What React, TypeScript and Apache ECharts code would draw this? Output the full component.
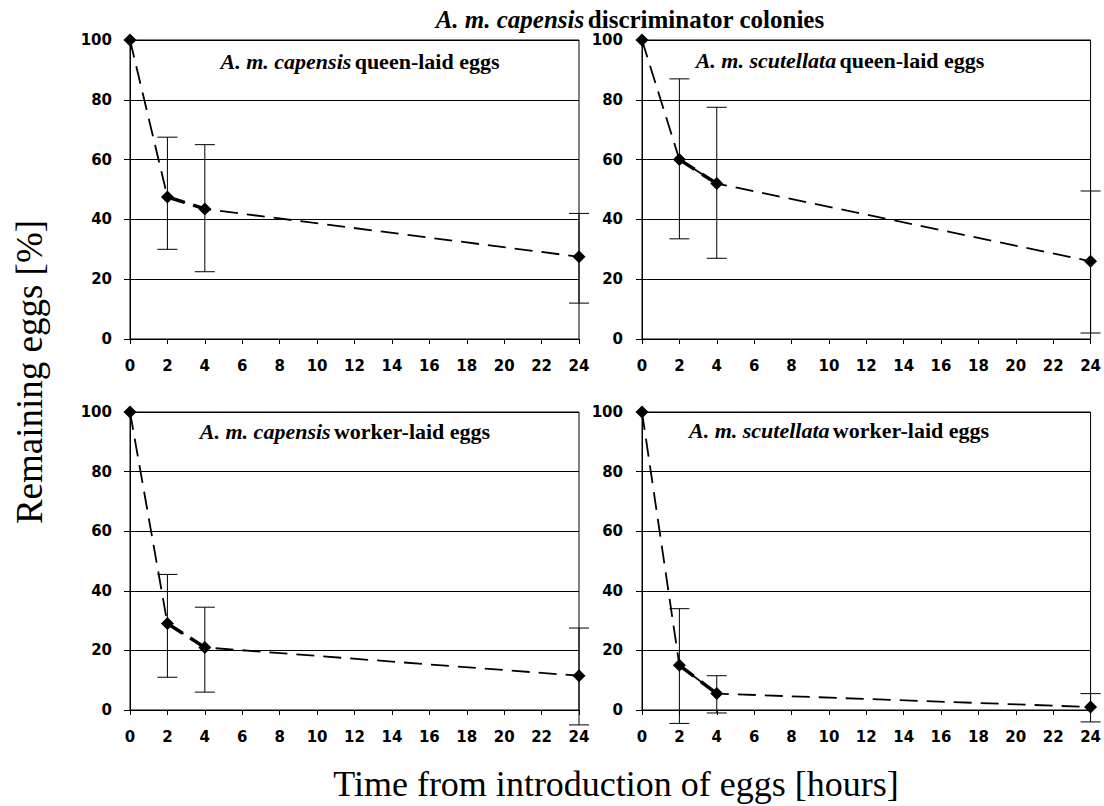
import React, { useEffect, useRef } from "react";
import * as echarts from "echarts";

const hours = [0, 2, 4, 24];
const xTicks = [0, 2, 4, 6, 8, 10, 12, 14, 16, 18, 20, 22, 24];
const yTicks = [0, 20, 40, 60, 80, 100];

const panelSpecies = ["A. m. capensis", "A. m. scutellata", "A. m. capensis", "A. m. scutellata"];
const panelKind = ["queen-laid eggs", "queen-laid eggs", "worker-laid eggs", "worker-laid eggs"];

const capQueenMean = [100, 47.5, 43.5, 27.5];
const capQueenLow = [100, 30, 22.5, 12];
const capQueenHigh = [100, 67.5, 65, 42];

const scuQueenMean = [100, 60, 52, 26];
const scuQueenLow = [100, 33.5, 27, 2];
const scuQueenHigh = [100, 87, 77.5, 49.5];

const capWorkerMean = [100, 29, 21, 11.5];
const capWorkerLow = [100, 11, 6, -5];
const capWorkerHigh = [100, 45.5, 34.5, 27.5];

const scuWorkerMean = [100, 15, 5.5, 1];
const scuWorkerLow = [100, -4.5, -1, -4];
const scuWorkerHigh = [100, 34, 11.5, 5.5];

const means = [capQueenMean, scuQueenMean, capWorkerMean, scuWorkerMean];
const lows = [capQueenLow, scuQueenLow, capWorkerLow, scuWorkerLow];
const highs = [capQueenHigh, scuQueenHigh, capWorkerHigh, scuWorkerHigh];

const grids = [
  { left: 130, top: 40, width: 449, height: 299 },
  { left: 642, top: 40, width: 451, height: 299 },
  { left: 130, top: 412, width: 449, height: 298 },
  { left: 642, top: 412, width: 450, height: 298 },
];

export default function App() {
  const ref = useRef<HTMLDivElement>(null);
  useEffect(() => {
    if (!ref.current) return;
    const chart = echarts.init(ref.current, null, { renderer: "svg" });
    const labelStyle = { color: "#000", fontFamily: "DejaVu Sans, Arial", fontWeight: "bold" as const, fontSize: 15 };
    const xAxis = grids.map((_, i) => ({
      type: "value" as const,
      gridIndex: i,
      min: 0,
      max: 24,
      interval: 2,
      axisLine: { show: true, onZero: false, lineStyle: { color: "#000", width: 1 } },
      axisTick: { show: true, inside: false, length: 5, lineStyle: { color: "#000" } },
      axisLabel: { ...labelStyle, margin: 19, formatter: (v: number) => (xTicks.includes(v) ? String(v) : "") },
      splitLine: { show: false },
    }));
    const yAxis = grids.map((_, i) => ({
      type: "value" as const,
      gridIndex: i,
      min: 0,
      max: 100,
      interval: 20,
      axisLine: { show: true, lineStyle: { color: "#000", width: 1 } },
      axisTick: { show: true, inside: false, length: 6, lineStyle: { color: "#000" } },
      axisLabel: { ...labelStyle, margin: i % 2 === 0 ? 18 : 19, formatter: (v: number) => (yTicks.includes(v) ? String(v) : "") },
      splitLine: { show: true, lineStyle: { color: "#000", width: 1 } },
    }));
    const series: any[] = [];
    grids.forEach((_, i) => {
      series.push({
        type: "custom",
        xAxisIndex: i,
        yAxisIndex: i,
        clip: false,
        z: 2,
        data: hours.map((h, k) => [h, lows[i][k], highs[i][k]]).filter((d) => d[0] !== 0),
        encode: { x: 0, y: [1, 2] },
        renderItem: (params: any, api: any) => {
          const x = api.value(0);
          const pHi = api.coord([x, api.value(2)]);
          const pLo = api.coord([x, api.value(1)]);
          const w = 10;
          const st = { stroke: "#000", lineWidth: 1 };
          return {
            type: "group",
            children: [
              { type: "line", shape: { x1: pHi[0], y1: pHi[1], x2: pLo[0], y2: pLo[1] }, style: st },
              { type: "line", shape: { x1: pHi[0] - w, y1: pHi[1], x2: pHi[0] + w, y2: pHi[1] }, style: st },
              { type: "line", shape: { x1: pLo[0] - w, y1: pLo[1], x2: pLo[0] + w, y2: pLo[1] }, style: st },
            ],
          };
        },
      });
      series.push({
        type: "line",
        xAxisIndex: i,
        yAxisIndex: i,
        clip: false,
        z: 3,
        data: hours.map((h, k) => [h, means[i][k]]),
        symbol: "diamond",
        symbolSize: 13,
        itemStyle: { color: "#000" },
        lineStyle: { color: "#000", width: 1.8, type: [18, 9] },
      });
      series.push({
        type: "line",
        xAxisIndex: i,
        yAxisIndex: i,
        clip: false,
        z: 3,
        data: hours.slice(1, 3).map((h, k) => [h, means[i][k + 1]]),
        symbol: "none",
        lineStyle: { color: "#000", width: 3.5, type: [18, 9] },
      });
    });
    const subCenters = [
      [360, 61],
      [840, 60],
      [345, 431],
      [839, 430],
    ];
    const serif = "Liberation Serif, Times New Roman";
    const graphic: any[] = subCenters.map((c, i) => ({
      type: "text",
      x: c[0],
      y: c[1],
      style: {
        text: `{i|${panelSpecies[i]}} {b|${panelKind[i]}}`,
        align: "center",
        verticalAlign: "middle",
        rich: {
          i: { fontFamily: serif, fontStyle: "italic", fontWeight: "bold", fontSize: 22, fill: "#000" },
          b: { fontFamily: serif, fontWeight: "bold", fontSize: 22, fill: "#000" },
        },
      },
    }));
    graphic.push({
      type: "text",
      x: 630,
      y: 19,
      style: {
        text: "{i|A. m. capensis} {b|discriminator colonies}",
        align: "center",
        verticalAlign: "middle",
        rich: {
          i: { fontFamily: serif, fontStyle: "italic", fontWeight: "bold", fontSize: 25, fill: "#000", lineHeight: 22 },
          b: { fontFamily: serif, fontWeight: "bold", fontSize: 25, fill: "#000", lineHeight: 22 },
        },
      },
    });
    graphic.push({
      type: "text",
      x: 29,
      y: 372,
      rotation: Math.PI / 2,
      style: {
        text: "Remaining eggs [%]",
        align: "center",
        verticalAlign: "middle",
        fontFamily: serif,
        fontSize: 37,
        fill: "#000",
      },
    });
    graphic.push({
      type: "text",
      x: 616,
      y: 784,
      style: {
        text: "Time from introduction of eggs [hours]",
        align: "center",
        verticalAlign: "middle",
        fontFamily: serif,
        fontSize: 36,
        fill: "#000",
      },
    });
    chart.setOption({
      animation: false,
      backgroundColor: "#fff",
      grid: grids.map((g) => ({ ...g, show: true, borderColor: "#000", borderWidth: 1, backgroundColor: "transparent" })),
      xAxis,
      yAxis,
      series,
      graphic,
    });
    return () => chart.dispose();
  }, []);
  return <div ref={ref} style={{ position: "fixed", left: 0, top: 0, width: 1104, height: 806 }} />;
}
